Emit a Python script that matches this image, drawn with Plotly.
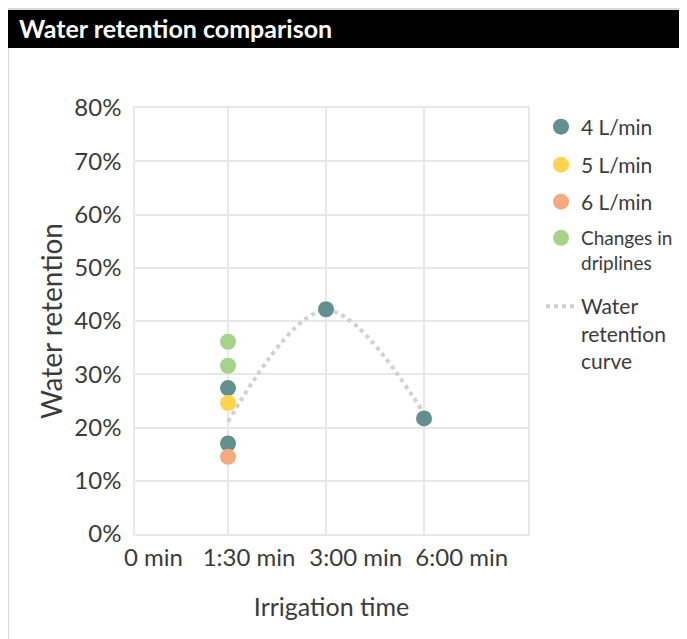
import plotly.graph_objects as go

# ---------------- data ----------------
time_labels = ["0 min", "1:30 min", "3:00 min", "6:00 min"]

flow4_time = ["1:30 min", "1:30 min", "3:00 min", "6:00 min"]
flow4_ret = [27.4, 17.0, 42.2, 21.7]

flow5_time = ["1:30 min"]
flow5_ret = [24.6]

flow6_time = ["1:30 min"]
flow6_ret = [14.5]

drip_time = ["1:30 min", "1:30 min"]
drip_ret = [36.1, 31.6]

curve_time = ["1:30 min", "3:00 min", "6:00 min"]
curve_ret = [21.1, 42.0, 22.6]

y_ticks = [0, 10, 20, 30, 40, 50, 60, 70, 80]

# ---------------- style / layout ----------------
PAGE_OFF = 8                      # default body margin of the html page
W, H = 687 - PAGE_OFF, 639 - PAGE_OFF
L, R, T, B = 135 - PAGE_OFF, 159, 108 - PAGE_OFF, 105
PW, PH = W - L - R, H - T - B
X_RANGE = [0.051, 4.061]
TICK_OFFSETS = [0.24, 0.215, 0.303, 0.385]   # label centres sit right of the gridlines
FONT = "Lato"
TXT = "#3b3b3b"
GRID = "#E8E8E8"

C4, C5, C6, CD, CC = "#62908E", "#FFD54F", "#F4AA7E", "#A6D28A", "#D1D1D1"


def xi(labels):
    return [time_labels.index(t) for t in labels]


def px_x(p):  # page pixel -> paper x
    return (p - PAGE_OFF - L) / PW


def px_y(p):  # page pixel -> paper y
    return (H - B - (p - PAGE_OFF)) / PH


fig = go.Figure()

fig.add_trace(go.Scatter(
    x=xi(curve_time), y=curve_ret, mode="lines", name="Water<br>retention<br>curve",
    line=dict(color=CC, width=4, dash="dot", shape="spline", smoothing=1.0),
    legend="legend5", hoverinfo="skip"))

MS = 16
fig.add_trace(go.Scatter(x=xi(flow4_time), y=flow4_ret, mode="markers", name="4 L/min",
                         marker=dict(color=C4, size=MS), legend="legend"))
fig.add_trace(go.Scatter(x=xi(flow5_time), y=flow5_ret, mode="markers", name="5 L/min",
                         marker=dict(color=C5, size=MS), legend="legend2"))
fig.add_trace(go.Scatter(x=xi(flow6_time), y=flow6_ret, mode="markers", name="6 L/min",
                         marker=dict(color=C6, size=MS), legend="legend3"))
fig.add_trace(go.Scatter(x=xi(drip_time), y=drip_ret, mode="markers", name="Changes in<br>driplines",
                         marker=dict(color=CD, size=MS), legend="legend4"))

leg_x = px_x(541)


def leg(ycenter, size=21, valign="middle", yanchor="middle"):
    return dict(x=leg_x, xanchor="left", y=px_y(ycenter), yanchor=yanchor,
                font=dict(family=FONT, size=size, color=TXT), bgcolor="rgba(0,0,0,0)",
                borderwidth=0, valign=valign, itemsizing="trace")


tickvals = [i + o for i, o in zip(range(len(time_labels)), TICK_OFFSETS)]

fig.update_layout(
    width=W, height=H,
    margin=dict(l=L, r=R, t=T, b=B, autoexpand=False),
    paper_bgcolor="white", plot_bgcolor="white",
    font=dict(family=FONT, color=TXT),
    title=dict(text="<b>Water retention comparison</b>",
               font=dict(family=FONT, size=25, color="white"),
               x=(19 - PAGE_OFF) / W, xanchor="left", xref="container",
               y=1 - (29 - PAGE_OFF) / H, yanchor="middle", yref="container"),
    xaxis=dict(range=X_RANGE, tickmode="array", tickvals=tickvals, ticktext=time_labels,
               showgrid=False, zeroline=False, showline=True, linecolor=GRID, linewidth=1.5,
               mirror=True, ticks="", tickfont=dict(family=FONT, size=24, color=TXT),
               ticklabelstandoff=1,
               minor=dict(tickmode="array", tickvals=list(range(1, len(time_labels))),
                          showgrid=True, gridcolor=GRID, gridwidth=1.5, ticks=""),
               title=dict(text="Irrigation time", font=dict(family=FONT, size=25, color=TXT),
                          standoff=29)),
    yaxis=dict(range=[0, 80], tickmode="array", tickvals=y_ticks,
               ticktext=[f"{v}%" for v in y_ticks],
               showgrid=True, gridcolor=GRID, gridwidth=1.5, zeroline=False,
               showline=True, linecolor=GRID, linewidth=1.5, mirror=True, ticks="",
               tickfont=dict(family=FONT, size=24, color=TXT), ticklabelstandoff=7,
               title=dict(text="Water retention", font=dict(family=FONT, size=28, color=TXT),
                          standoff=4)),
    showlegend=True,
    legend=leg(127),
    legend2=leg(165),
    legend3=leg(202),
    legend4=leg(219, size=19, valign="top", yanchor="top"),
    legend5=leg(286, size=21, valign="top", yanchor="top"),
    shapes=[
        dict(type="rect", xref="paper", yref="paper",
             x0=px_x(8), x1=px_x(700), y0=px_y(660), y1=px_y(9),
             line=dict(color="#D9D9D9", width=2), fillcolor="rgba(0,0,0,0)", layer="below"),
        dict(type="rect", xref="paper", yref="paper",
             x0=px_x(8), x1=px_x(700), y0=px_y(48), y1=px_y(10),
             line=dict(width=0), fillcolor="black", layer="below"),
    ],
)

fig.write_html("out.html")
